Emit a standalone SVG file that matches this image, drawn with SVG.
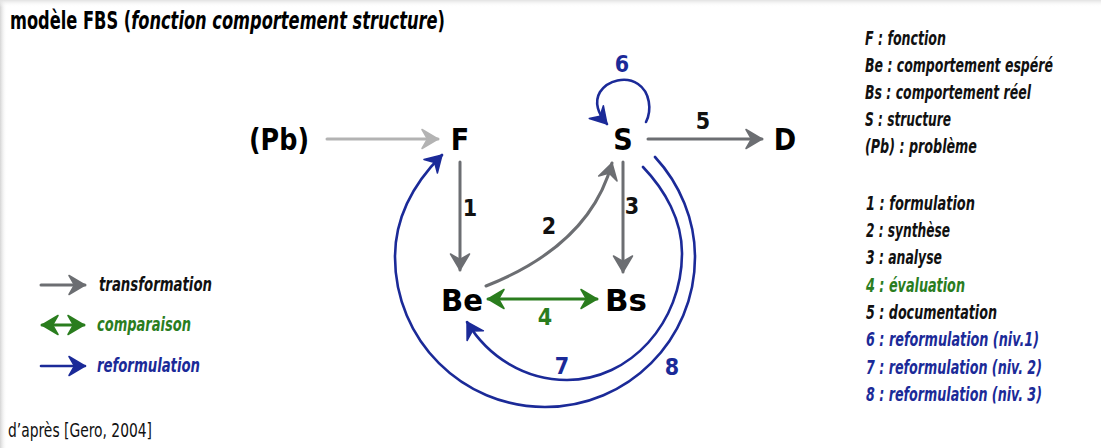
<svg xmlns="http://www.w3.org/2000/svg" width="1101" height="448" viewBox="0 0 1101 448">
<style>
  text { font-family: 'DejaVu Sans Condensed', 'DejaVu Sans', sans-serif; font-weight: bold; }
  .node { font-size: 30px; fill: #000; text-anchor: middle; }
  .num { font-size: 23px; text-anchor: middle; }
  .lg { font-size: 19px; font-style: italic; }
  .k { fill: #111; }
  .g { fill: #2a7d1e; }
  .b { fill: #1b2a98; }
  .edge { fill: none; stroke-linecap: round; }
  .grey { stroke: #6c6e72; stroke-width: 3; }
  .light { stroke: #b3b3b3; stroke-width: 3; }
  .green { stroke: #2a7d1e; stroke-width: 3; }
  .blue { stroke: #1b2a98; stroke-width: 2.6; }
</style>
<defs>
  <linearGradient id="shL" x1="0" y1="0" x2="1" y2="0">
    <stop offset="0" stop-color="#d4d4d4"/>
    <stop offset="1" stop-color="#ffffff" stop-opacity="0"/>
  </linearGradient>
  <linearGradient id="shT" x1="0" y1="0" x2="0" y2="1">
    <stop offset="0" stop-color="#e2e2e2"/>
    <stop offset="1" stop-color="#ffffff" stop-opacity="0"/>
  </linearGradient>
  <marker id="aGrey" viewBox="-18 -11 20 22" refX="0" refY="0" markerWidth="20" markerHeight="22" markerUnits="userSpaceOnUse" orient="auto">
    <path d="M0,0 L-16,-9.5 L-10.5,0 L-16,9.5 Z" fill="#6c6e72" stroke="#6c6e72" stroke-width="1.5" stroke-linejoin="round"/>
  </marker>
  <marker id="aLight" viewBox="-18 -11 20 22" refX="0" refY="0" markerWidth="20" markerHeight="22" markerUnits="userSpaceOnUse" orient="auto">
    <path d="M0,0 L-16,-9.5 L-10.5,0 L-16,9.5 Z" fill="#b3b3b3" stroke="#b3b3b3" stroke-width="1.5" stroke-linejoin="round"/>
  </marker>
  <marker id="aGreen" viewBox="-18 -11 20 22" refX="0" refY="0" markerWidth="20" markerHeight="22" markerUnits="userSpaceOnUse" orient="auto-start-reverse">
    <path d="M0,0 L-16,-9.5 L-10.5,0 L-16,9.5 Z" fill="#2a7d1e" stroke="#2a7d1e" stroke-width="1.5" stroke-linejoin="round"/>
  </marker>
  <marker id="aBlue" viewBox="-18 -11 20 22" refX="0" refY="0" markerWidth="20" markerHeight="22" markerUnits="userSpaceOnUse" orient="auto">
    <path d="M0,0 L-16,-9.5 L-10.5,0 L-16,9.5 Z" fill="#1b2a98" stroke="#1b2a98" stroke-width="1.5" stroke-linejoin="round"/>
  </marker>
</defs>
<rect x="0" y="0" width="1101" height="448" fill="#ffffff"/>
<rect x="0" y="0" width="7" height="448" fill="url(#shL)"/>
<rect x="0" y="0" width="1101" height="7" fill="url(#shT)"/>

<text id="title" x="10" y="29" font-size="24" fill="#000" textLength="435" lengthAdjust="spacingAndGlyphs">modèle FBS (<tspan font-style="italic">fonction comportement structure</tspan>)</text>

<g id="connectors">
  <line class="edge light" x1="327" y1="139" x2="438" y2="139" marker-end="url(#aLight)"/>
  <line class="edge grey" x1="460" y1="162" x2="460" y2="270" marker-end="url(#aGrey)"/>
  <path class="edge grey" d="M486,286 Q590,245 612,163" marker-end="url(#aGrey)"/>
  <line class="edge grey" x1="623" y1="162" x2="623" y2="272" marker-end="url(#aGrey)"/>
  <line class="edge green" x1="488" y1="299" x2="597" y2="299" marker-start="url(#aGreen)" marker-end="url(#aGreen)"/>
  <line class="edge grey" x1="648" y1="139" x2="762" y2="139" marker-end="url(#aGrey)"/>
  <path class="edge blue" d="M646,122 C652,110 650,92 638,84 C626,76 608,80 600,92 C594,102 598,114 607,124" marker-end="url(#aBlue)"/>
  <path class="edge blue" d="M643,167 C665,190 682,220 682,253 C682,323 630,380 567,380 C525,380 488,357 467,322" marker-end="url(#aBlue)"/>
  <path class="edge blue" d="M655,157 C680,184 695,220 695,257 C695,340 628,407 545,407 C462,407 395,340 395,257 C395,217 414,183 442,155" marker-end="url(#aBlue)"/>
</g>

<g id="edge-labels">
  <text class="num k" x="470" y="216">1</text>
  <text class="num k" x="549" y="234">2</text>
  <text class="num k" x="632" y="214">3</text>
  <text class="num g" x="545" y="325">4</text>
  <text class="num k" x="703" y="129">5</text>
  <text class="num b" x="622" y="72">6</text>
  <text class="num b" x="562" y="374">7</text>
  <text class="num b" x="672" y="375">8</text>
</g>

<g id="node-Pb"><text class="node" x="279" y="150" textLength="60" lengthAdjust="spacingAndGlyphs">(Pb)</text></g>
<g id="node-F"><text class="node" x="460" y="150">F</text></g>
<g id="node-S"><text class="node" x="623" y="150">S</text></g>
<g id="node-D"><text class="node" x="785" y="150">D</text></g>
<g id="node-Be"><text class="node" x="462" y="311" textLength="42" lengthAdjust="spacingAndGlyphs">Be</text></g>
<g id="node-Bs"><text class="node" x="626" y="311" textLength="42" lengthAdjust="spacingAndGlyphs">Bs</text></g>

<g id="legend-arrows">
  <line class="edge grey" x1="41" y1="285" x2="85" y2="285" marker-end="url(#aGrey)"/>
  <text class="lg k" x="99" y="291" font-size="18" textLength="113" lengthAdjust="spacingAndGlyphs">transformation</text>
  <line class="edge green" x1="42" y1="325" x2="84" y2="325" marker-start="url(#aGreen)" marker-end="url(#aGreen)"/>
  <text class="lg g" x="97" y="331" font-size="18" textLength="94" lengthAdjust="spacingAndGlyphs">comparaison</text>
  <line class="edge blue" x1="41" y1="366" x2="85" y2="366" marker-end="url(#aBlue)"/>
  <text class="lg b" x="97" y="372" font-size="18" textLength="103" lengthAdjust="spacingAndGlyphs">reformulation</text>
</g>

<text id="source" x="8" y="437" font-size="19" style="font-weight:normal" fill="#111" textLength="144" lengthAdjust="spacingAndGlyphs">d’après [Gero, 2004]</text>

<g id="legend-symbols">
  <text class="lg k" x="865" y="45" textLength="81" lengthAdjust="spacingAndGlyphs">F : fonction</text>
  <text class="lg k" x="865" y="72" textLength="188" lengthAdjust="spacingAndGlyphs">Be : comportement espéré</text>
  <text class="lg k" x="865" y="99" textLength="166" lengthAdjust="spacingAndGlyphs">Bs : comportement réel</text>
  <text class="lg k" x="865" y="126" textLength="86" lengthAdjust="spacingAndGlyphs">S : structure</text>
  <text class="lg k" x="865" y="153" textLength="112" lengthAdjust="spacingAndGlyphs">(Pb) : problème</text>
</g>
<g id="legend-steps">
  <text class="lg k" x="866" y="210" textLength="109" lengthAdjust="spacingAndGlyphs">1 : formulation</text>
  <text class="lg k" x="866" y="237" textLength="84" lengthAdjust="spacingAndGlyphs">2 : synthèse</text>
  <text class="lg k" x="866" y="264" textLength="76" lengthAdjust="spacingAndGlyphs">3 : analyse</text>
  <text class="lg g" x="866" y="292" textLength="99" lengthAdjust="spacingAndGlyphs">4 : évaluation</text>
  <text class="lg k" x="866" y="319" textLength="131" lengthAdjust="spacingAndGlyphs">5 : documentation</text>
  <text class="lg b" x="866" y="346" textLength="173" lengthAdjust="spacingAndGlyphs">6 : reformulation (niv.1)</text>
  <text class="lg b" x="866" y="374" textLength="176" lengthAdjust="spacingAndGlyphs">7 : reformulation (niv. 2)</text>
  <text class="lg b" x="866" y="401" textLength="176" lengthAdjust="spacingAndGlyphs">8 : reformulation (niv. 3)</text>
</g>
</svg>
